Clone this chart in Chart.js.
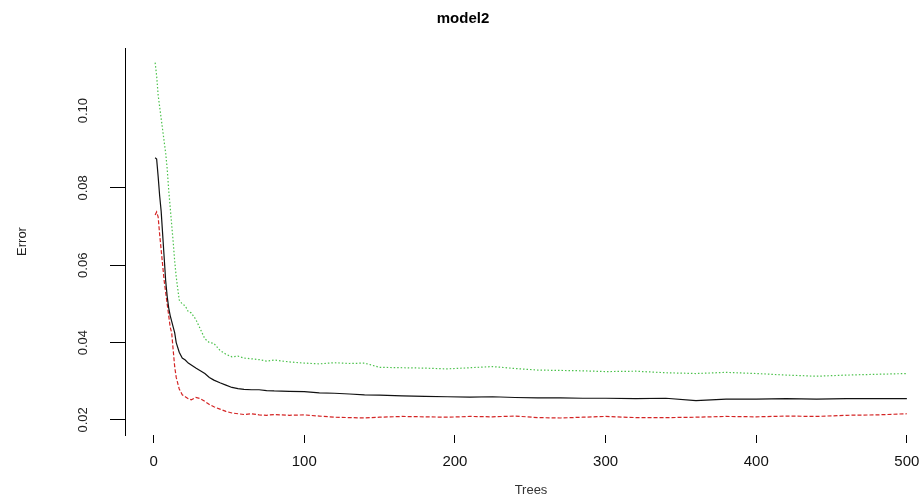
<!DOCTYPE html>
<html>
<head>
<meta charset="utf-8">
<script src="https://cdn.jsdelivr.net/npm/chart.js@4/dist/chart.umd.min.js"></script>
<style>
  html, body { margin: 0; padding: 0; background: #fff; overflow: hidden; }
  #wrap { position: absolute; left: 0; top: 0; width: 960px; height: 498px; }
</style>
</head>
<body>
<div id="wrap"><canvas id="err"></canvas></div>
<script>
var trees = [1,2,3,4,5,6,7,8,9,10,11,12,13,14,15,17,19,21,23,25,28,31,34,37,40,44,48,52,56,60,65,70,75,80,90,100,110,120,130,140,150,165,180,195,210,225,240,255,270,285,300,320,340,360,380,400,420,440,460,480,500];

// OOB error (black, solid)
var oobErr = [0.0878,0.0875,0.083,0.078,0.074,0.068,0.062,0.056,0.052,0.049,0.047,0.0455,0.044,0.0425,0.040,0.0375,0.036,0.0355,0.0347,0.0342,0.0334,0.0327,0.032,0.031,0.0303,0.0296,0.029,0.0284,0.0281,0.0279,0.0278,0.0278,0.0276,0.0275,0.0274,0.0273,0.0270,0.0269,0.0267,0.0265,0.0264,0.0262,0.0261,0.0260,0.0259,0.0260,0.0258,0.0257,0.0257,0.0256,0.0256,0.0255,0.0256,0.0250,0.0254,0.0254,0.0255,0.0254,0.0255,0.0255,0.0255];

// class 1 error (red, dashed)
var class1Err = [0.0730,0.0738,0.0725,0.068,0.064,0.060,0.056,0.053,0.050,0.047,0.044,0.0425,0.038,0.0337,0.031,0.028,0.0265,0.026,0.0255,0.0252,0.0258,0.0255,0.0248,0.0240,0.0234,0.0228,0.0222,0.0218,0.0216,0.0214,0.0216,0.0213,0.0212,0.0214,0.0212,0.0213,0.0210,0.0207,0.0206,0.0205,0.0207,0.0209,0.0208,0.0207,0.0209,0.0208,0.0210,0.0206,0.0205,0.0207,0.0209,0.0206,0.0206,0.0207,0.0209,0.0208,0.0210,0.0209,0.0212,0.0213,0.0216];

// class 2 error (green, dotted)
var class2Err = [0.1124,0.109,0.104,0.101,0.098,0.095,0.092,0.089,0.085,0.0795,0.075,0.0704,0.066,0.061,0.057,0.051,0.050,0.0495,0.048,0.0477,0.046,0.0435,0.041,0.040,0.0398,0.038,0.037,0.0363,0.0365,0.0360,0.0358,0.0356,0.0352,0.0355,0.0350,0.0347,0.0345,0.0348,0.0346,0.0347,0.0336,0.0335,0.0334,0.0332,0.0335,0.0338,0.0333,0.0329,0.0328,0.0327,0.0325,0.0326,0.0322,0.0320,0.0323,0.0320,0.0316,0.0313,0.0316,0.0318,0.0320];

var xTicks = [0, 100, 200, 300, 400, 500];
var yTicks = [0.02, 0.04, 0.06, 0.08, 0.10];

function pts(vals) {
    return trees.map(function(t, i) { return {x: t, y: vals[i]}; });
}

Chart.defaults.font.family = "'Liberation Sans', Arial, sans-serif";
Chart.defaults.color = '#222';

var ctx = document.getElementById('err').getContext('2d');
var errChart = new Chart(ctx, {
    type: 'line',
    data: {
        datasets: [{
            label: 'OOB',
            data: pts(oobErr),
            borderColor: '#111',
            borderWidth: 1.2,
            pointRadius: 0,
            tension: 0
        }, {
            label: '1',
            data: pts(class1Err),
            borderColor: '#d42424',
            borderWidth: 1.2,
            borderDash: [4, 2],
            pointRadius: 0,
            tension: 0
        }, {
            label: '2',
            data: pts(class2Err),
            borderColor: '#4cc24c',
            borderWidth: 1.2,
            borderDash: [1.5, 2],
            pointRadius: 0,
            tension: 0
        }]
    },
    options: {
        responsive: true,
        maintainAspectRatio: false,
        animation: false,
        layout: { padding: { left: 0, right: 23, top: 0, bottom: 0 } },
        plugins: {
            legend: { display: false },
            tooltip: { enabled: false },
            title: {
                display: true,
                text: 'model2',
                color: '#000',
                font: { size: 15, weight: 'bold' },
                padding: { top: 10, bottom: 20 }
            }
        },
        scales: {
            x: {
                type: 'linear',
                min: -19,
                max: 520,
                afterBuildTicks: function(s) { s.ticks = xTicks.map(function(v) { return {value: v}; }); },
                afterFit: function(s) { s.height = 63; },
                grid: { drawOnChartArea: false, drawTicks: true, tickLength: 8, color: '#000' },
                border: { display: false },
                ticks: { padding: 10, maxRotation: 0, font: { size: 15 }, color: '#111' },
                title: { display: true, text: 'Trees', font: { size: 13 }, color: '#333', padding: { top: 0, bottom: 0 } }
            },
            y: {
                type: 'linear',
                min: 0.0161,
                max: 0.1162,
                afterBuildTicks: function(s) { s.ticks = yTicks.map(function(v) { return {value: v}; }); },
                afterFit: function(s) { s.width = 125; },
                grid: {
                    drawOnChartArea: false,
                    drawTicks: true,
                    tickLength: 15,
                    color: function(c) { return (c.tick && c.tick.value > 0.09) ? 'rgba(0,0,0,0)' : '#000'; }
                },
                border: { display: true, color: '#000', width: 1 },
                ticks: {
                    minRotation: 90,
                    maxRotation: 90,
                    crossAlign: 'center',
                    padding: 14,
                    font: { size: 13 },
                    color: '#222',
                    callback: function(v) { return v.toFixed(2); }
                },
                title: { display: true, text: 'Error', font: { size: 13 }, color: '#222', padding: { top: 15, bottom: 0 } }
            }
        }
    },
    plugins: [{
        id: 'centreTitle',
        // the canvas is wider than the window, so centre the title over x = 463
        afterLayout: function(chart) {
            if (chart.titleBlock) {
                chart.titleBlock.left = 0;
                chart.titleBlock.right = 926;
            }
        }
    }]
});
</script>
</body>
</html>
